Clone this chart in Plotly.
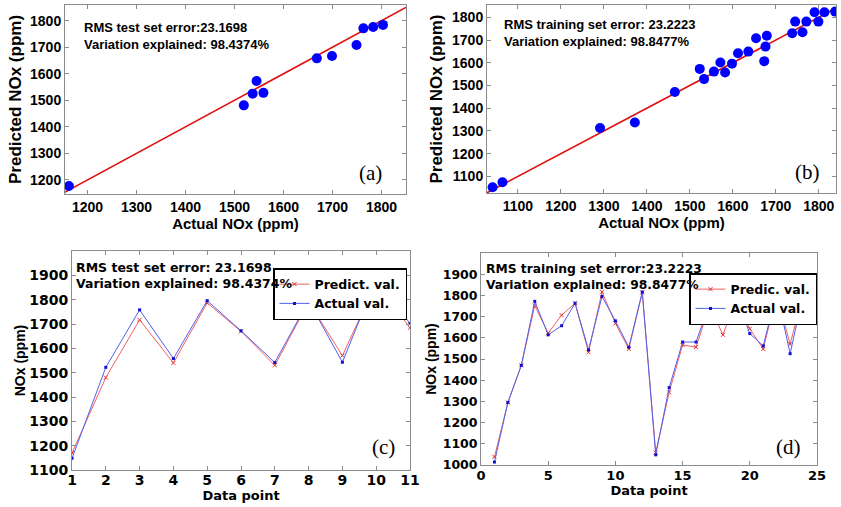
import plotly.graph_objects as go

# ---------------- data ----------------
a_actual = [1162, 1519, 1537, 1545, 1559, 1668, 1699, 1749, 1763, 1783, 1803]
a_pred = [1177, 1481, 1525, 1573, 1528, 1658, 1667, 1708, 1771, 1776, 1784]

b_actual = [1041, 1064, 1291, 1372, 1465, 1523, 1533, 1556, 1571, 1582, 1598, 1612, 1636,
            1654, 1673, 1676, 1679, 1738, 1745, 1762, 1771, 1790, 1799, 1813, 1838]
b_pred = [1052, 1074, 1313, 1337, 1471, 1573, 1528, 1561, 1601, 1557, 1596, 1642, 1649,
          1708, 1607, 1671, 1719, 1730, 1781, 1734, 1781, 1822, 1781, 1822, 1825]

c_points = [1, 2, 3, 4, 5, 6, 7, 8, 9, 10, 11]
c_pred = [1170, 1480, 1717, 1540, 1787, 1670, 1530, 1790, 1570, 1870, 1684]
c_actual = [1148, 1522, 1758, 1558, 1796, 1672, 1542, 1795, 1543, 1885, 1702]

d_points = list(range(1, 26))
d_pred = [1038, 1295, 1470, 1752, 1622, 1707, 1763, 1532, 1817, 1668, 1547, 1814, 1058,
          1343, 1566, 1556, 1752, 1614, 1785, 1643, 1547, 1805, 1570, 1810, 1830]
d_actual = [1014, 1295, 1470, 1772, 1614, 1657, 1763, 1543, 1795, 1680, 1556, 1816, 1048,
            1365, 1580, 1580, 1760, 1680, 1790, 1620, 1562, 1815, 1525, 1815, 1835]

a_xrange = [1154, 1850]
a_yrange = [1147, 1859]
b_xrange = [1028, 1840]
b_yrange = [1027, 1854]
a_ticks = [1200, 1300, 1400, 1500, 1600, 1700, 1800]
b_ticks = [1100, 1200, 1300, 1400, 1500, 1600, 1700, 1800]
c_yticks = [1100, 1200, 1300, 1400, 1500, 1600, 1700, 1800, 1900]
d_yticks = [1000, 1100, 1200, 1300, 1400, 1500, 1600, 1700, 1800, 1900]
d_xticks = [0, 5, 10, 15, 20, 25]
ideal = [1000, 1900]

W, H = 841, 507
LIB = "Liberation Sans"
DJV = "DejaVu Sans"
FRAME = "#8c8c8c"

fig = go.Figure()

# (a)
fig.add_trace(go.Scatter(x=ideal, y=ideal, mode="lines", line=dict(color="#e01010", width=1.6),
                         xaxis="x", yaxis="y", showlegend=False))
fig.add_trace(go.Scatter(x=a_actual, y=a_pred, mode="markers",
                         marker=dict(color="#0000ff", size=10), xaxis="x", yaxis="y", showlegend=False))
# (b)
fig.add_trace(go.Scatter(x=ideal, y=ideal, mode="lines", line=dict(color="#e01010", width=1.6),
                         xaxis="x2", yaxis="y2", showlegend=False))
fig.add_trace(go.Scatter(x=b_actual, y=b_pred, mode="markers",
                         marker=dict(color="#0000ff", size=10), xaxis="x2", yaxis="y2", showlegend=False))
# (c)
fig.add_trace(go.Scatter(x=c_points, y=c_pred, mode="lines+markers", name="Predict. val.",
                         line=dict(color="#f06060", width=1),
                         marker=dict(symbol="x-thin", size=4, color="#e03030", line=dict(color="#e03030", width=1)),
                         xaxis="x3", yaxis="y3", legend="legend"))
fig.add_trace(go.Scatter(x=c_points, y=c_actual, mode="lines+markers", name="Actual val.",
                         line=dict(color="#5060f0", width=1),
                         marker=dict(symbol="square", size=3, color="#1010d0"),
                         xaxis="x3", yaxis="y3", legend="legend"))
# (d)
fig.add_trace(go.Scatter(x=d_points, y=d_pred, mode="lines+markers", name="Predic. val.",
                         line=dict(color="#f06060", width=1),
                         marker=dict(symbol="x-thin", size=4, color="#e03030", line=dict(color="#e03030", width=1)),
                         xaxis="x4", yaxis="y4", legend="legend2"))
fig.add_trace(go.Scatter(x=d_points, y=d_actual, mode="lines+markers", name="Actual val.",
                         line=dict(color="#5060f0", width=1),
                         marker=dict(symbol="square", size=3, color="#1010d0"),
                         xaxis="x4", yaxis="y4", legend="legend2"))


def ax(domain, rng, ticks, family, size, anchor, title, tsize, tfamily, standoff, lblstand=0):
    return dict(domain=domain, range=rng, tickvals=ticks, ticks="inside", ticklen=4,
                tickcolor=FRAME, showline=True, linecolor=FRAME, linewidth=1, mirror="ticks",
                showgrid=False, zeroline=False, anchor=anchor, ticklabelstandoff=lblstand,
                tickfont=dict(family=family, size=size, color="black", weight="bold"),
                title=dict(text=title, font=dict(family=tfamily, size=tsize, color="black", weight="bold"),
                           standoff=standoff),
                automargin=False)


def px_x(a, b):
    return [a / W, b / W]


def px_y(top, bottom):
    return [1 - bottom / H, 1 - top / H]


def sx(v):
    return v / W


def sy(v):
    return 1 - v / H


LEG_FONT = dict(family=DJV, size=12.5, color="black", weight="bold")

fig.update_layout(
    width=W, height=H, margin=dict(l=0, r=0, t=0, b=0),
    paper_bgcolor="white", plot_bgcolor="white",
    xaxis=ax(px_x(65, 406), a_xrange, a_ticks, LIB, 14, "y", "Actual NOx (ppm)", 15, LIB, 0),
    yaxis=ax(px_y(5, 194), a_yrange, a_ticks, LIB, 14, "x", "Predicted NOx (ppm)", 17, LIB, 4),
    xaxis2=ax(px_x(487, 836), b_xrange, b_ticks, LIB, 14, "y2", "Actual NOx (ppm)", 15, LIB, 0),
    yaxis2=ax(px_y(5, 193), b_yrange, b_ticks, LIB, 14, "x2", "Predicted NOx (ppm)", 17, LIB, 5),
    xaxis3=ax(px_x(72, 410), [1, 11], c_points, DJV, 14, "y3", "Data point", 13, DJV, 0, -3),
    yaxis3=ax(px_y(251, 470), [1100, 2000], c_yticks, DJV, 14, "x3", "NOx (ppm)", 14, LIB, 0),
    xaxis4=ax(px_x(481, 817), [0, 25], d_xticks, DJV, 13, "y4", "Data point", 13, DJV, 3, -2),
    yaxis4=ax(px_y(253, 465), [1000, 2000], d_yticks, DJV, 12.5, "x4", "NOx (ppm)", 14, LIB, 2),
    legend=dict(x=sx(407), y=sy(268), xanchor="right", yanchor="top", bgcolor="white",
                bordercolor="black", borderwidth=1.5, itemwidth=30, tracegroupgap=0,
                font=LEG_FONT),
    legend2=dict(x=sx(817), y=sy(273), xanchor="right", yanchor="top", bgcolor="white",
                 bordercolor="black", borderwidth=1.5, itemwidth=30, tracegroupgap=0,
                 font=LEG_FONT),
)

annots = [
    (82, 18, "RMS test set error:23.1698<br>Variation explained: 98.4374%", LIB, 13),
    (502, 15, "RMS training set error: 23.2223<br>Variation explained: 98.8477%", LIB, 13),
    (74, 258, "RMS test set error: 23.1698<br>Variation explained: 98.4374%", DJV, 12.5),
    (484, 260, "RMS training set error:23.2223<br>Variation explained: 98.8477%", DJV, 12.3),
]
for x0, y0, txt, fam, sz in annots:
    fig.add_annotation(x=sx(x0), y=sy(y0), xref="paper", yref="paper", xanchor="left", yanchor="top",
                       text=txt, showarrow=False, align="left",
                       font=dict(family=fam, size=sz, color="black", weight="bold"))

labels = [(370, 173, "(a)"), (807, 172, "(b)"), (383, 447, "(c)"), (788, 447, "(d)")]
for x0, y0, txt in labels:
    fig.add_annotation(x=sx(x0), y=sy(y0), xref="paper", yref="paper", xanchor="center", yanchor="middle",
                       text=txt, showarrow=False,
                       font=dict(family="Liberation Serif", size=21, color="black"))

# remove the page's default body margin so the figure sits at the window's top-left corner
fig.write_html("out.html", config={"displayModeBar": False},
               post_script="document.body.style.margin='0';")
